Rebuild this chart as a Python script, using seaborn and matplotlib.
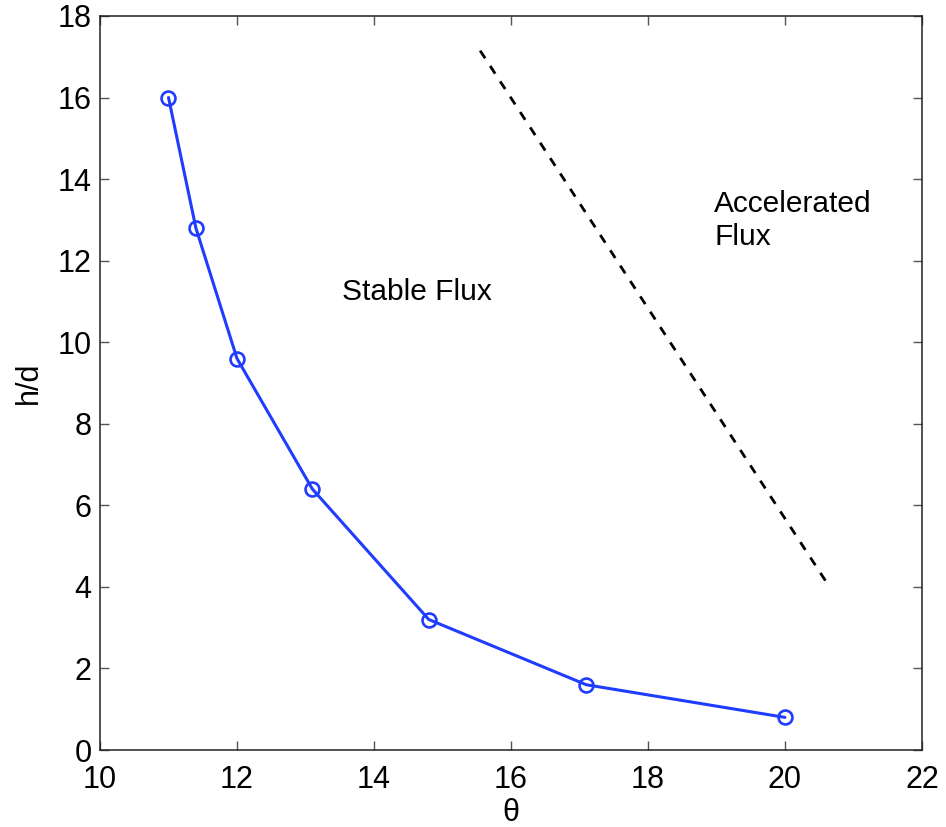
import matplotlib
matplotlib.use("Agg")
import matplotlib.pyplot as plt
import seaborn as sns
import pandas as pd

# Measured flow regime boundary
theta = [11.0, 11.4, 12.0, 13.1, 14.8, 17.1, 20.0]
h_over_d = [16.0, 12.8, 9.6, 6.4, 3.2, 1.6, 0.8]

# Boundary of the accelerated-flux regime
accel_theta = [15.55, 20.65]
accel_h = [17.15, 4.0]

x_ticks = [10, 12, 14, 16, 18, 20, 22]
y_ticks = [0, 2, 4, 6, 8, 10, 12, 14, 16, 18]

sns.set_style("ticks")
plt.rcParams["font.family"] = ["Liberation Sans", "DejaVu Sans"]
plt.rcParams["axes.linewidth"] = 1.1
plt.rcParams["axes.edgecolor"] = "#222222"
plt.rcParams["text.color"] = "black"
plt.rcParams["axes.labelcolor"] = "black"
plt.rcParams["xtick.labelcolor"] = "black"
plt.rcParams["ytick.labelcolor"] = "black"

fig = plt.figure(figsize=(9.46, 8.27), dpi=100)
ax = fig.add_axes([0.1057, 0.0931, 0.8689, 0.8876])

df = pd.DataFrame({"theta": theta, "h_over_d": h_over_d})
sns.lineplot(data=df, x="theta", y="h_over_d", ax=ax, color="#1f3cff",
             linewidth=2.2, marker="o", markersize=10, markerfacecolor="none",
             markeredgecolor="#1f3cff", markeredgewidth=1.9, sort=False)

ax.plot(accel_theta, accel_h, color="black", linewidth=2.0,
        linestyle=(0, (3.3, 3.3)))

ax.text(13.53, 11.23, "Stable Flux", fontsize=21.5, ha="left", va="center")
ax.text(18.97, 12.98, "Accelerated\nFlux", fontsize=21.5, ha="left", va="center",
        linespacing=1.22)

ax.set_xlim(10, 22)
ax.set_ylim(0, 18)
ax.set_xticks(x_ticks)
ax.set_yticks(y_ticks)
ax.tick_params(direction="in", length=6.5, width=1.0, labelsize=22,
               top=True, right=True, color="#555555", pad=6)
ax.tick_params(axis="x", pad=11)
ax.set_xlabel("θ", fontsize=22, labelpad=2)
ax.set_ylabel("h/d", fontsize=22, labelpad=10)
for s in ax.spines.values():
    s.set_visible(True)

fig.savefig("out.png", dpi=100, facecolor="white")
